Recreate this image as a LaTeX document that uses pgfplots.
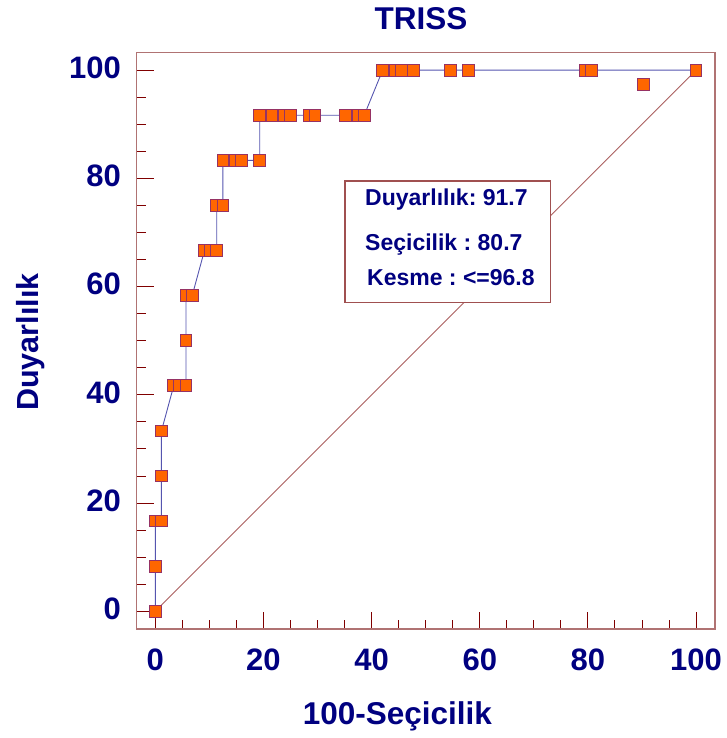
\documentclass[border=0pt]{standalone}
\usepackage{fontspec}
\setmainfont{Liberation Sans}
\usepackage{pgfplots}
\pgfplotsset{compat=1.18}
\definecolor{navyt}{RGB}{0,0,128}
\definecolor{curveblue}{RGB}{85,85,175}
\definecolor{diagred}{RGB}{170,95,95}
\definecolor{framecol}{RGB}{176,115,115}
\definecolor{tickred}{RGB}{128,0,0}
\definecolor{markborder}{RGB}{150,50,100}
\definecolor{orangef}{RGB}{255,102,0}
\definecolor{boxcol}{RGB}{160,80,80}
\frenchspacing
\begin{document}
\begin{tikzpicture}
\begin{axis}[
  scale only axis, width=578.3pt, height=576.7pt,
  xmin=-3.44, xmax=103.5, ymin=-3.27, ymax=103.3,
  xtick={0,20,...,100}, ytick={0,20,...,100},
  minor tick num=3,
  tick align=inside,
  xtick pos=bottom, ytick pos=left,
  major tick length=17pt, minor tick length=9pt,
  tick style={draw=tickred, line width=1pt},
  axis line style={draw=framecol, line width=1.5pt},
  /pgf/number format/assume math mode=true,
  ticklabel style={font=\bfseries\fontsize{31}{31}\selectfont, text=navyt},
  xticklabel style={anchor=base, inner sep=0pt, yshift=-41pt},
  yticklabel style={anchor=east, inner sep=0pt, xshift=-15.7pt, yshift=2.5pt},
  clip=false,
]
\addplot[draw=diagred, line width=0.9pt] coordinates {(0,0) (100,100)};
\addplot[draw=curveblue, line width=0.9pt, mark=square*, mark size=5.9pt,
  mark options={fill=orangef, draw=markborder, line width=1pt, solid}] coordinates {
(0,0) (0,8.33) (0,16.67) (1.136,16.67) (1.136,25) (1.136,33.33)
(3.409,41.67) (4.545,41.67) (5.682,41.67) (5.682,50) (5.682,58.33) (6.818,58.33)
(9.091,66.67) (10.227,66.67) (11.364,66.67) (11.364,75) (12.5,75) (12.5,83.33)
(14.773,83.33) (15.909,83.33) (19.318,83.33) (19.318,91.67) (21.591,91.67)
(23.864,91.67) (25,91.67) (28.409,91.67) (29.545,91.67) (35.227,91.67)
(37.5,91.67) (38.636,91.67) (42.045,100) (44.318,100) (45.455,100) (47.727,100)
(54.545,100) (57.955,100) (79.545,100) (80.682,100) (100,100)
};
\addplot[only marks, mark=square*, mark size=5.9pt,
  mark options={fill=orangef, draw=markborder, line width=1pt}] coordinates {(90.3,97.3)};
\end{axis}
\filldraw[fill=white, draw=boxcol, line width=1.3pt] (208.3pt,326.7pt) rectangle (414pt,448pt);
\begin{scope}[every node/.style={inner sep=0pt, text=navyt}]
\node[anchor=base west, font=\bfseries\fontsize{23}{23}\selectfont] at (228.3pt,423.3pt) {Duyarlılık: 91.7};
\node[anchor=base west, font=\bfseries\fontsize{23}{23}\selectfont] at (228.3pt,378pt) {Seçicilik : 80.7};
\node[anchor=base west, font=\bfseries\fontsize{23}{23}\selectfont] at (230.3pt,343pt) {Kesme : <=96.8};
\node[anchor=base, font=\bfseries\fontsize{31.5}{31.5}\selectfont] at (284.3pt,599.7pt) {TRISS};
\node[anchor=base, font=\bfseries\fontsize{31.5}{31.5}\selectfont] at (260.7pt,-95pt) {100-Seçicilik};
\node[anchor=base, rotate=90, font=\bfseries\fontsize{30.5}{30.5}\selectfont] at (-98.4pt,286.8pt) {Duyarlılık};
\end{scope}
\path (-136.7pt,-109pt) rectangle (589.3pt,629pt);
\end{tikzpicture}
\end{document}
